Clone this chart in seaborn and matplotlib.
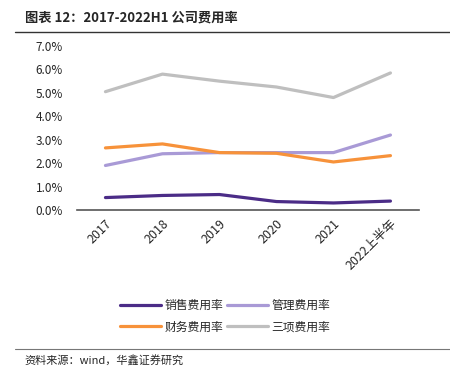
import numpy as np
import pandas as pd
import seaborn as sns
import matplotlib.pyplot as plt
from matplotlib.ticker import FuncFormatter

years = ['2017', '2018', '2019', '2020', '2021', '2022上半年']
sales = [0.53, 0.62, 0.66, 0.36, 0.30, 0.38]
admin = [1.90, 2.40, 2.45, 2.45, 2.45, 3.20]
finance = [2.65, 2.82, 2.45, 2.42, 2.05, 2.32]
total = [5.05, 5.80, 5.50, 5.25, 4.80, 5.85]

names = ['销售费用率', '管理费用率', '财务费用率', '三项费用率']
colors = ['#4B2C87', '#A99AD6', '#F7923A', '#BFBFBF']

df = pd.DataFrame({'year': years, names[0]: sales, names[1]: admin,
                   names[2]: finance, names[3]: total})
long_df = df.melt(id_vars='year', var_name='kind', value_name='rate')

sns.set_style('white')
plt.rcParams['font.family'] = ['Noto Sans CJK SC', 'DejaVu Sans']

fig = plt.figure(figsize=(4.5, 3.71), dpi=100)
ax = fig.add_axes([0.171, 0.434, 0.76, 0.442])

sns.lineplot(data=long_df, x='year', y='rate', hue='kind', hue_order=names,
             palette=colors, linewidth=2.3, sort=False, ax=ax, legend=True)

ax.set_xlim(-0.5, len(years) - 0.5)
ax.set_ylim(0, 7)
ax.set_yticks(np.arange(0, 8, 1))
ax.yaxis.set_major_formatter(FuncFormatter(lambda v, p: f'{v:.1f}%'))
ax.set_xticks(np.arange(len(years) + 1) - 0.5, minor=False)
ax.set_xticklabels([])
ax.set_xticks(np.arange(len(years)), minor=True)
ax.set_xticklabels(years, minor=True, rotation=45, ha='right', rotation_mode='anchor', fontsize=9)
ax.tick_params(axis='x', which='major', length=4, width=1, color='#555555', direction='out')
ax.tick_params(axis='x', which='minor', length=0, pad=5)
ax.tick_params(axis='y', length=0, labelsize=8.5, pad=10)
ax.set_xlabel('')
ax.set_ylabel('')
for s in ['top', 'right', 'left']:
    ax.spines[s].set_visible(False)
ax.spines['bottom'].set_color('#555555')
ax.spines['bottom'].set_linewidth(1.2)

h, l = ax.get_legend_handles_labels()
ax.get_legend().remove()
order = [0, 2, 1, 3]
fig.legend([h[i] for i in order], [l[i] for i in order], ncol=2, loc='center',
           bbox_to_anchor=(0.5, 0.148), frameon=False,
           fontsize=8.5, handlelength=3.5, handletextpad=0.3, columnspacing=0.3,
           labelspacing=0.75)

fig.text(0.055, 0.953, '图表 12：2017-2022H1 公司费用率', fontsize=9.5, fontweight='bold',
         va='center', ha='left')
fig.add_artist(plt.Line2D([0.033, 1.0], [0.913, 0.913], color='#333333', linewidth=1))
fig.add_artist(plt.Line2D([0.033, 1.0], [0.06, 0.06], color='#777777', linewidth=0.8))
fig.text(0.055, 0.03, '资料来源：wind，华鑫证券研究', fontsize=8, va='center', ha='left')

fig.savefig('out.png', dpi=100)
